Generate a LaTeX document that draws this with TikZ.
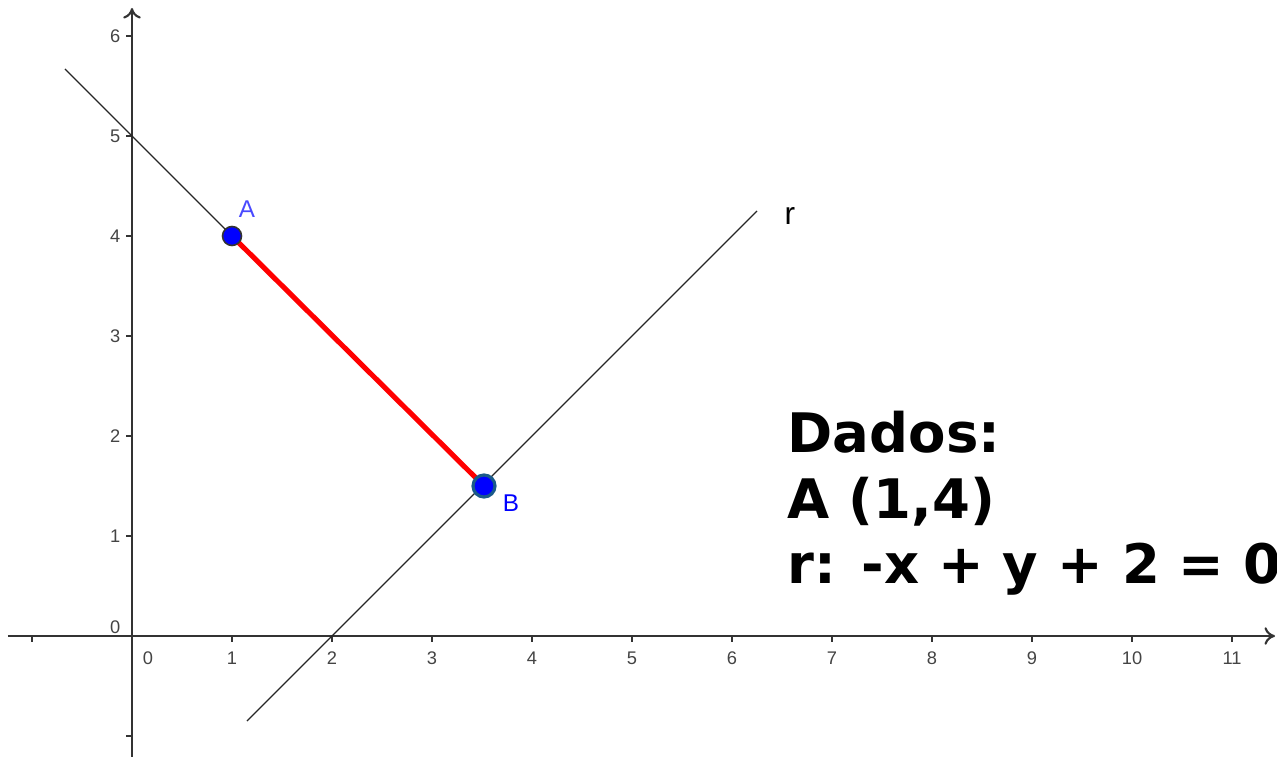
\documentclass[tikz,border=0pt]{standalone}
\usepackage{fontspec}
\setmainfont{Liberation Sans}
\newfontfamily\bigfont{DejaVu Sans}
\usetikzlibrary{arrows.meta}
\definecolor{axisgray}{HTML}{333333}
\definecolor{labelgray}{HTML}{444444}
\definecolor{Blab}{HTML}{0000FF}
\definecolor{Alab}{HTML}{4A4AFF}
\definecolor{Bedge}{HTML}{1A5A8A}
\tikzset{
  axisline/.style={draw=axisgray, line width=0.6pt},
  thinline/.style={draw=black!85, line width=0.35pt},
  tickmark/.style={draw=axisgray, line width=0.5pt},
  ticklabel/.style={font=\fontsize{5.2pt}{6pt}\selectfont, text=labelgray, inner sep=0pt},
  seg/.style={draw=red, line width=1.45pt},
  ptA/.style={circle, fill=blue, draw=black!80, line width=0.45pt, minimum size=0.19cm, inner sep=0pt},
  ptB/.style={circle, fill=blue, draw=Bedge, line width=0.9pt, minimum size=0.22cm, inner sep=0pt},
  ptlabel/.style={font=\fontsize{6.9pt}{8pt}\selectfont, inner sep=0pt},
  bigtext/.style={font=\bigfont\bfseries\fontsize{15.5pt}{18pt}\selectfont, anchor=base west, inner sep=0pt}
}
\begin{document}
\begin{tikzpicture}[x=1cm,y=1cm]
\useasboundingbox (-1.32,-1.20) rectangle (11.45,6.36);
% axes
\coordinate (xs) at (-1.24,0);
\coordinate (xe) at (11.43,0);
\coordinate (ys) at (0,-1.22);
\coordinate (ye) at (0,6.28);
\draw[axisline,-{To[length=3pt,width=5pt]}] (xs) -- (xe);
\draw[axisline,-{To[length=3pt,width=5pt]}] (ys) -- (ye);
% ticks
\foreach \x in {-1,1,2,...,11} {
  \draw[tickmark] (\x,0) -- (\x,-0.06);
}
\foreach \x in {1,2,...,11} {
  \node[ticklabel] (xl\x) at (\x,-0.22) {\x};
}
\node[ticklabel] (xl0) at (0.16,-0.22) {0};
\foreach \y in {-1,1,2,...,6} {
  \draw[tickmark] (0,\y) -- (-0.06,\y);
}
\foreach \y in {1,2,...,6} {
  \node[ticklabel, anchor=east] (yl\y) at (-0.11,\y) {\y};
}
\node[ticklabel, anchor=east] (yl0) at (-0.11,0.09) {0};
% points and lines
\coordinate (A) at (1,4);
\coordinate (B) at (3.52,1.5);
\coordinate (p1) at (-0.67,5.67);
\coordinate (r1) at (1.15,-0.85);
\coordinate (r2) at (6.25,4.25);
\draw[thinline] (p1) -- (A);
\draw[thinline] (r1) -- (r2);
\draw[seg] (A) -- (B);
\node[ptA] (dotA) at (A) {};
\node[ptB] (dotB) at (B) {};
\node[ptlabel, text=Alab] (labA) at (1.15,4.27) {A};
\node[ptlabel, text=Blab] (labB) at (3.79,1.33) {B};
\node[ptlabel, text=black, font=\fontsize{9pt}{10pt}\selectfont] (labr) at (6.58,4.2) {r};
% data text
\node[bigtext] (t1) at (6.55,1.84) {Dados:};
\node[bigtext] (t2) at (6.55,1.18) {A (1,4)};
\node[bigtext] (t3) at (6.55,0.53) {r: -x + y + 2 = 0};
\end{tikzpicture}
\end{document}
